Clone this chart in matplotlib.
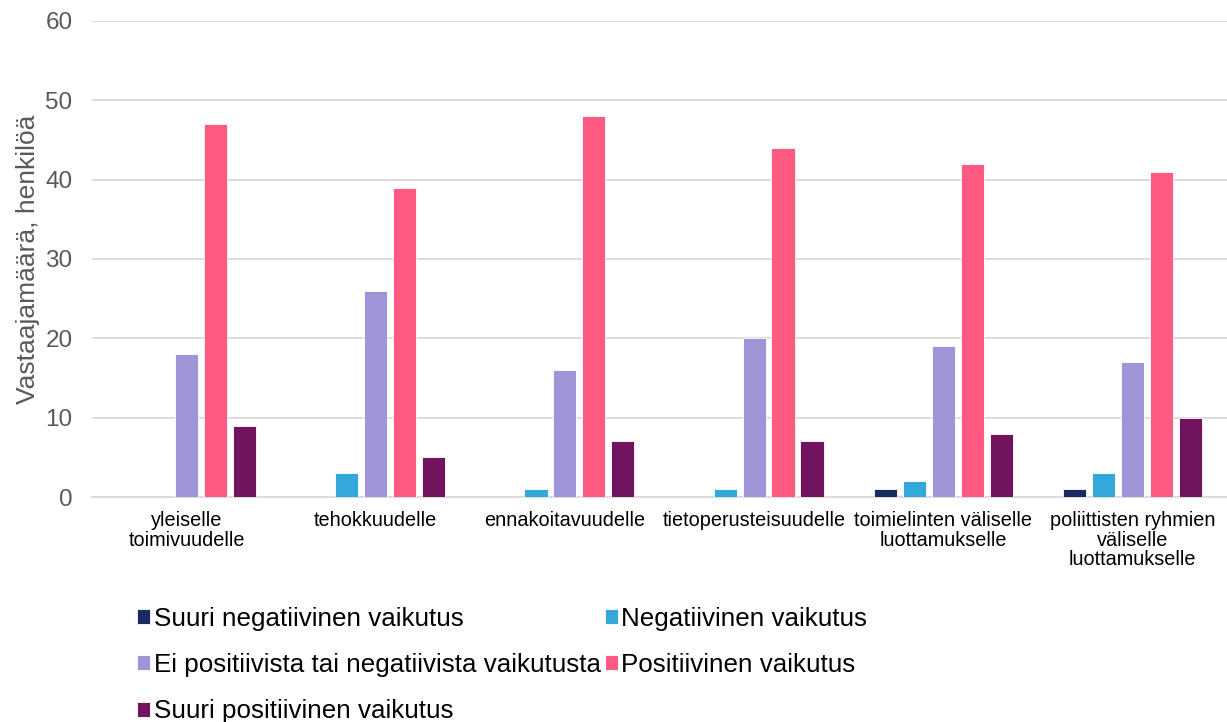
import numpy as np
import matplotlib.pyplot as plt

plt.rcParams['font.family'] = ['Liberation Sans', 'DejaVu Sans']

kategoriat = ['yleiselle\ntoimivuudelle', 'tehokkuudelle', 'ennakoitavuudelle',
              'tietoperusteisuudelle', 'toimielinten väliselle\nluottamukselle',
              'poliittisten ryhmien\nväliselle\nluottamukselle']
sarjat = ['Suuri negatiivinen vaikutus', 'Negatiivinen vaikutus',
          'Ei positiivista tai negatiivista vaikutusta', 'Positiivinen vaikutus',
          'Suuri positiivinen vaikutus']
suuri_neg = [0, 0, 0, 0, 1, 1]
negatiivinen = [0, 3, 1, 1, 2, 3]
neutraali = [18, 26, 16, 20, 19, 17]
positiivinen = [47, 39, 48, 44, 42, 41]
suuri_pos = [9, 5, 7, 7, 8, 10]
arvot = [suuri_neg, negatiivinen, neutraali, positiivinen, suuri_pos]
varit = ['#172B5E', '#34A8DA', '#9E94D6', '#FF5A82', '#701460']

fig = plt.figure(figsize=(12.27, 7.22), dpi=100)
ax = fig.add_axes([0.075, 0.3116, 0.925, 0.6594])

x = np.arange(len(kategoriat))
step = 0.153
w = 0.122
palkit = []
for i, (nimi, v, c) in enumerate(zip(sarjat, arvot, varit)):
    b = ax.bar(x + (i - 2) * step, v, width=w, color=c, label=nimi,
               edgecolor='white', linewidth=0.6, zorder=3)
    palkit.append(b)

ax.set_xlim(-0.5, len(kategoriat) - 0.5)
ax.set_ylim(0, 60)
ax.set_yticks(range(0, 61, 10))
ax.yaxis.grid(True, color='#D9D9D9', linewidth=1.3, zorder=0)
for s in ['top', 'right', 'left']:
    ax.spines[s].set_visible(False)
ax.spines['bottom'].set_color('#D9D9D9')
ax.spines['bottom'].set_linewidth(1.3)
ax.tick_params(axis='y', length=0, labelsize=17.5, labelcolor='#595959', pad=14)
ax.tick_params(axis='x', length=0, labelsize=14.3, pad=10)
ax.set_xticks(x)
ax.set_xticklabels(kategoriat, linespacing=1.05)
ax.set_ylabel('Vastaajamäärä, henkilöä', fontsize=19, color='#595959', labelpad=4)

# legend fills row by row in the original
jarj = [0, 2, 4, 1, 3]
fig.legend([palkit[k] for k in jarj], [sarjat[k] for k in jarj],
           loc='upper left', bbox_to_anchor=(0.103, 0.174), ncol=2, frameon=False,
           fontsize=18.7, handlelength=0.5, handleheight=0.5, handletextpad=0.15,
           columnspacing=0.15, labelspacing=0.86, borderaxespad=0)

fig.savefig('out.png', dpi=100)
